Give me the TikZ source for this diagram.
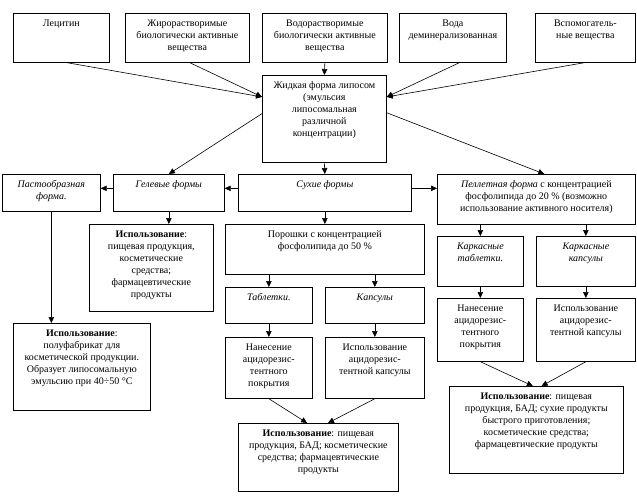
\documentclass[tikz,border=0pt]{standalone}
\usepackage{fontspec}
\setmainfont{Liberation Serif}
\usetikzlibrary{arrows.meta,calc}
\tikzset{
  box/.style={draw=black, line width=0.7pt, inner sep=0pt, anchor=north west, font=\fontsize{10}{12}\selectfont},
  arr/.style={draw=black, line width=0.6pt, -{Triangle[length=6pt,width=5.5pt]}},
}
\newcommand{\mybox}[6]{\node[box] (#1) at (#2,#3) {\parbox[t][#5pt][t]{#4pt}{\centering\vspace*{4.5pt}\strut #6}};}
\begin{document}
\begin{tikzpicture}[x=1pt,y=-1pt]
\path[use as bounding box, fill=white] (0,0) rectangle (637,499);
% top row
\mybox{lec}{13}{13}{96}{49}{Лецитин}
\mybox{zhir}{125}{13}{124}{49}{Жирорастворимые\\биологически активные\\вещества}
\mybox{vod}{262}{13}{125}{49}{Водорастворимые\\биологически активные\\вещества}
\mybox{voda}{399}{13}{107}{49}{Вода\\деминерализованная}
\mybox{vsp}{535}{13}{100}{49}{Вспомогатель-\\ные вещества}
% liquid
\mybox{liq}{262}{75}{124}{87}{Жидкая форма липосом\\(эмульсия\\липосомальная\\различной\\концентрации)}
% row 2
\mybox{pasta}{2}{174}{98}{37}{{\itshape Пастообразная\\форма.}}
\mybox{gel}{113}{174}{111}{37}{{\itshape Гелевые формы}}
\mybox{dry}{238}{174}{173}{37}{{\itshape Сухие формы}}
\mybox{pel}{437}{174}{198}{50}{{\itshape Пеллетная форма} с концентрацией\\фосфолипида до 20~\% (возможно\\использование активного носителя)}
% row 3
\mybox{geluse}{89}{224}{124}{87}{\textbf{Использование}:\\пищевая продукция,\\косметические\\средства;\\фармацевтические\\продукты}
\mybox{powder}{225}{224}{199}{50}{Порошки с концентрацией\\фосфолипида до 50~\%}
\mybox{kt}{437}{236}{86}{50}{{\itshape Каркасные\\таблетки.}}
\mybox{kk}{536}{236}{99}{50}{{\itshape Каркасные\\капсулы}}
% row 4
\mybox{tab}{225}{287}{87}{36}{{\itshape Таблетки.}}
\mybox{cap}{325}{287}{99}{36}{{\itshape Капсулы}}
\mybox{pastuse}{13}{323}{137}{87}{\textbf{Использование}:\\полуфабрикат для\\косметической продукции.\\Образует липосомальную\\эмульсию при 40÷50 °C}
\mybox{nan2}{437}{298}{86}{63}{Нанесение\\ацидорезис-\\тентного\\покрытия}
\mybox{isp2}{536}{298}{99}{63}{Использование\\ацидорезис-\\тентной капсулы}
% row 5
\mybox{nan1}{225}{337}{87}{61}{Нанесение\\ацидорезис-\\тентного\\покрытия}
\mybox{isp1}{325}{337}{99}{61}{Использование\\ацидорезис-\\тентной капсулы}
\mybox{use4}{449}{386}{174}{87}{\textbf{Использование}: пищевая\\продукция, БАД; сухие продукты\\быстрого приготовления;\\косметические средства;\\фармацевтические продукты}
\mybox{use3}{238}{423}{160}{68}{\textbf{Использование}: пищевая\\продукция, БАД; косметические\\средства; фармацевтические\\продукты}
% connectors into liquid
\coordinate (liqL) at ($(liq.north west)!0.25!(liq.south west)$);
\coordinate (liqR) at ($(liq.north east)!0.25!(liq.south east)$);
\draw[arr] ($(lec.south west)!0.56!(lec.south east)$) -- (liqL);
\draw[arr] ($(zhir.south west)!0.52!(zhir.south east)$) -- (liqL);
\draw[arr] (vod.south) -- (liq.north);
\draw[arr] ($(voda.south west)!0.56!(voda.south east)$) -- (liqR);
\draw[arr] ($(vsp.south west)!0.49!(vsp.south east)$) -- (liqR);
% from liquid
\draw[arr] ($(liq.north west)!0.44!(liq.south west)$) -- (gel.north);
\draw[arr] ($(liq.north east)!0.43!(liq.south east)$) -- ($(pel.north west)!0.54!(pel.north east)$);
\draw[arr] (liq.south) -- (dry.north);
% row 2 horizontal
\coordinate (dryL) at ($(dry.north west)!0.38!(dry.south west)$);
\coordinate (dryR) at ($(dry.north east)!0.38!(dry.south east)$);
\coordinate (gelL) at ($(gel.north west)!0.38!(gel.south west)$);
\draw[arr] (dryL) -- (dryL -| gel.east);
\draw[arr] (gelL) -- (gelL -| pasta.east);
\draw[arr] (dryR) -- (dryR -| pel.west);
% verticals
\draw[arr] (pasta.south) -- (pasta.south |- pastuse.north);
\draw[arr] (gel.south) -- (gel.south |- geluse.north);
\draw[arr] (dry.south) -- (powder.north);
\draw[arr] (powder.south -| tab.north) -- (tab.north);
\draw[arr] (powder.south -| cap.north) -- (cap.north);
\draw[arr] (tab.south) -- (nan1.north);
\draw[arr] (cap.south) -- (isp1.north);
\draw[arr] (pel.south -| kt.north) -- (kt.north);
\draw[arr] (pel.south -| kk.north) -- (kk.north);
\draw[arr] (kt.south) -- (nan2.north);
\draw[arr] (kk.south) -- (isp2.north);
% converging
\draw[arr] (nan1.south) -- ($(use3.north west)!0.43!(use3.north east)$);
\draw[arr] (isp1.south) -- ($(use3.north west)!0.56!(use3.north east)$);
\draw[arr] (nan2.south) -- ($(use4.north west)!0.48!(use4.north east)$);
\draw[arr] (isp2.south) -- ($(use4.north west)!0.53!(use4.north east)$);
\end{tikzpicture}
\end{document}
